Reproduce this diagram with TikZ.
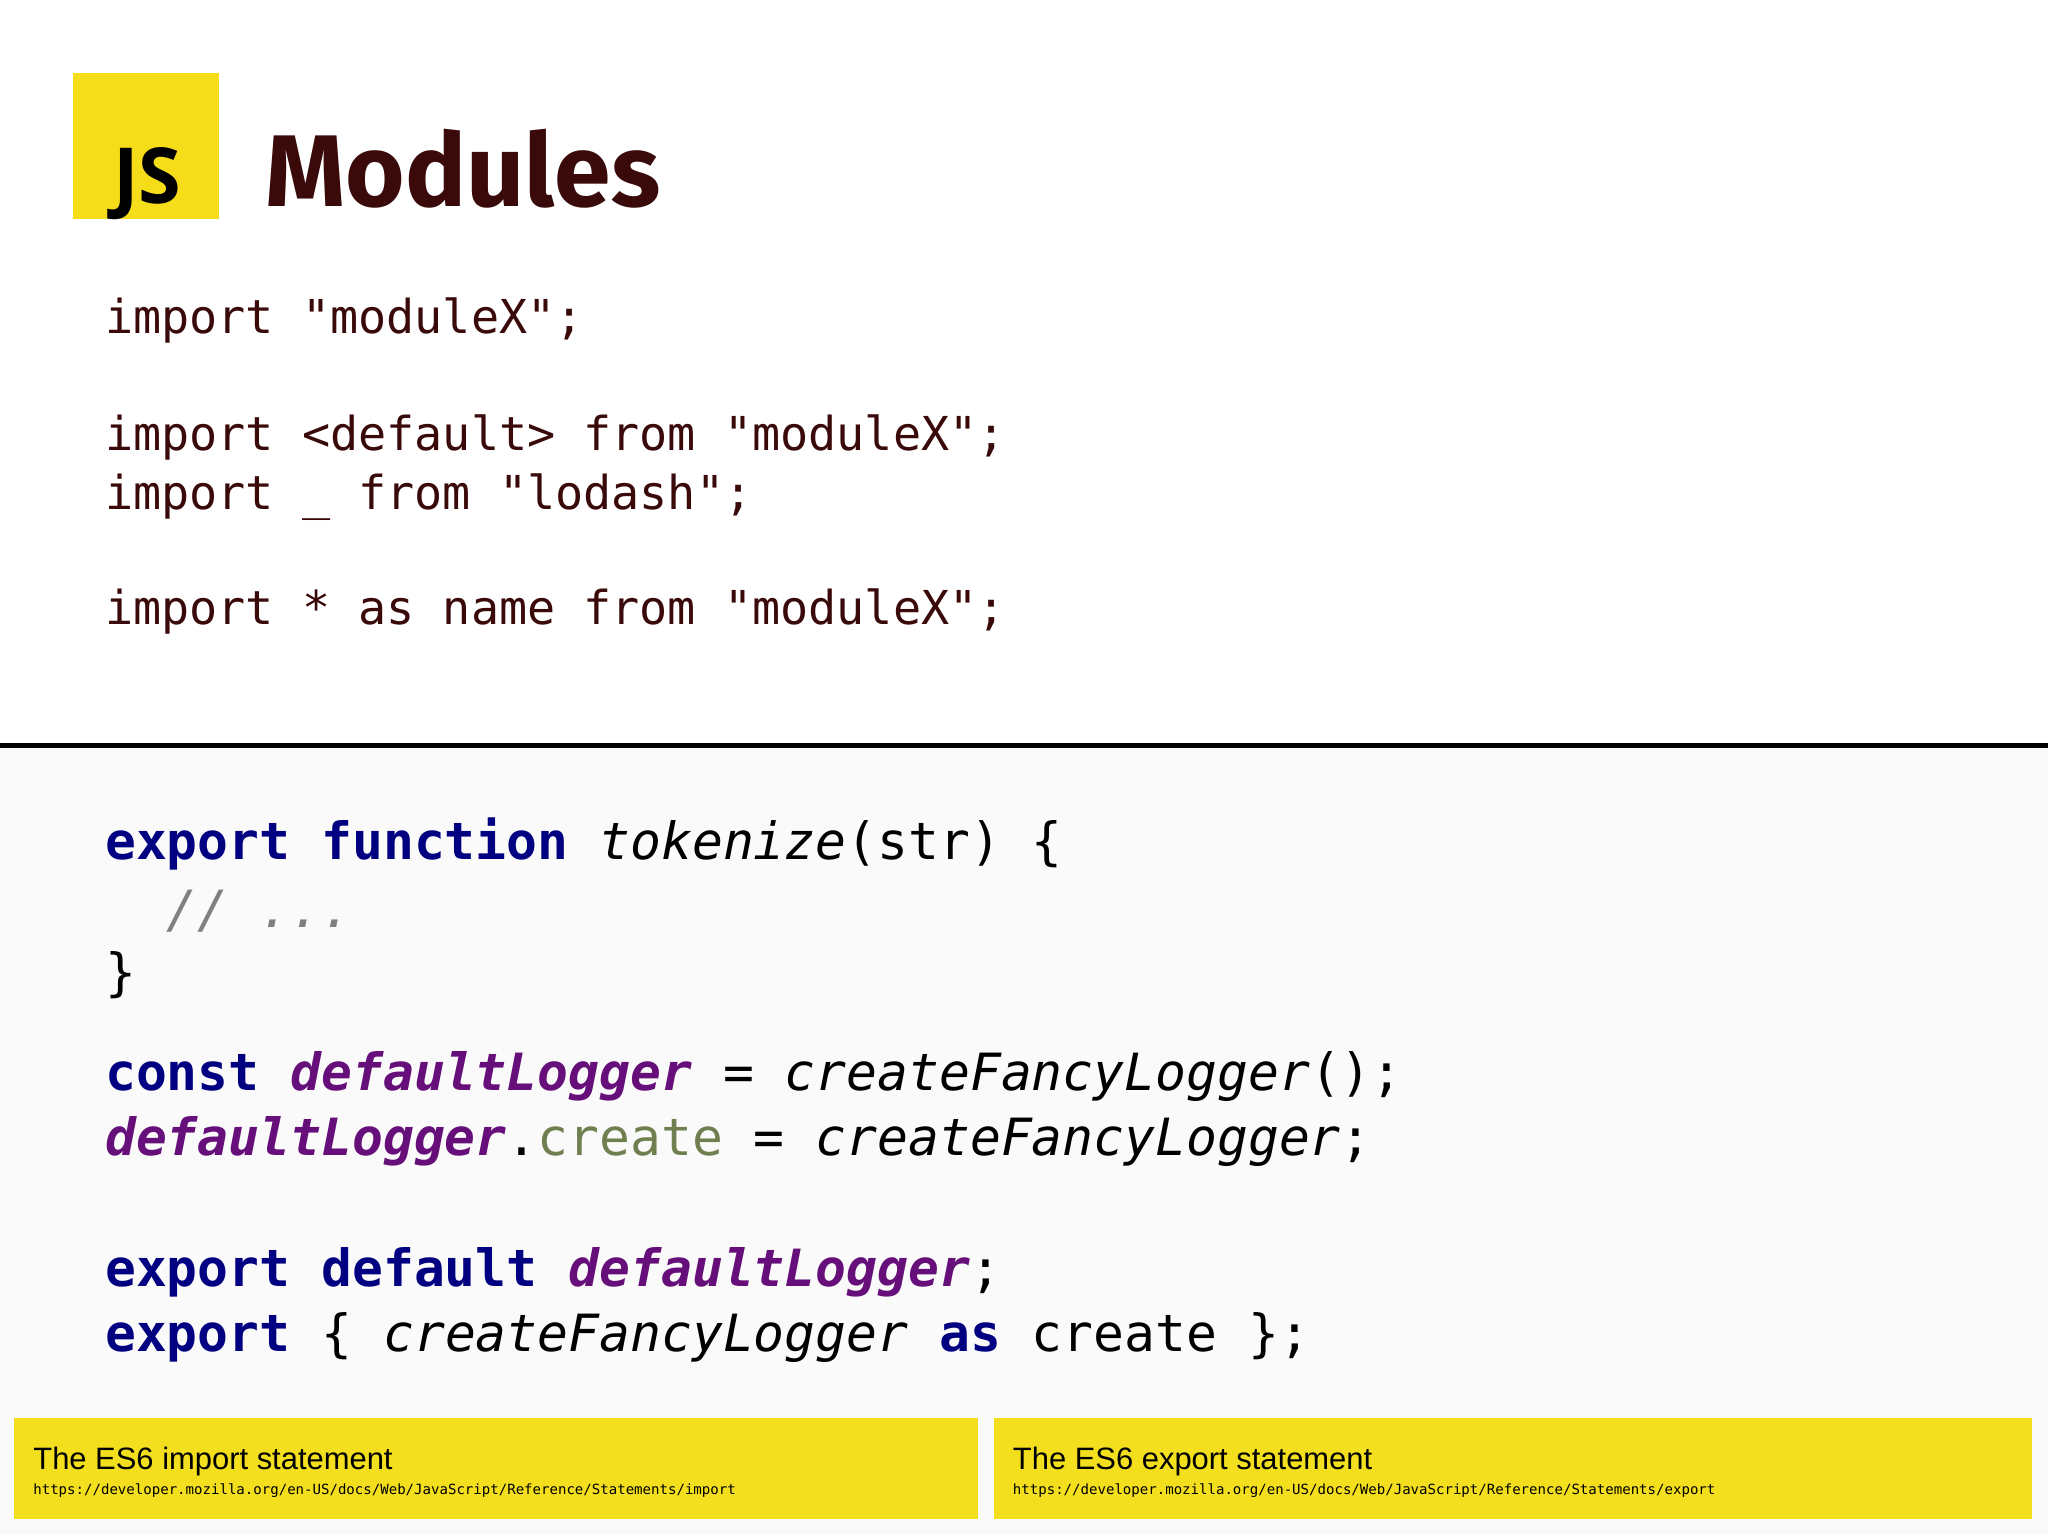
\documentclass[tikz,border=0pt]{standalone}
\usepackage{fontspec}
\setmainfont{Fira Sans}
\setmonofont{DejaVu Sans Mono}
\newfontfamily\titlefont{Fira Sans}
\newfontfamily\jsfont{Open Sans}
\newfontfamily\capfont{Liberation Sans}
\definecolor{darkred}{HTML}{3A0A0A}
\definecolor{kw}{HTML}{000080}
\definecolor{pur}{HTML}{660E7A}
\definecolor{olv}{HTML}{6F7F4F}
\definecolor{cmt}{HTML}{808080}
\definecolor{jsy}{HTML}{F5DE19}
\definecolor{boxy}{HTML}{F4DF1E}
\begin{document}
\begin{tikzpicture}[x=0.01306cm,y=-0.01306cm,
  t/.style={inner sep=0pt,anchor=base west},
  topcode/.style={t,font=\fontsize{13.3pt}{15pt}\ttfamily,text=darkred},
  botcode/.style={t,font=\fontsize{14.6pt}{16pt}\ttfamily,text=black},
  captxt/.style={t,font=\fontsize{8.8pt}{10pt}\capfont},
  urltxt/.style={t,font=\fontsize{4.0pt}{4.5pt}\ttfamily}]
\useasboundingbox (0,0) rectangle (1568,1175);
\fill[white] (0,0) rectangle (1568,571);
\fill[black!2] (0,571) rectangle (1568,1175);
\draw[line width=0.05cm] (0,571) -- (1568,571);
\fill[jsy] (56,56) rectangle (168,168);
\node[t,font=\fontsize{22pt}{24pt}\jsfont\bfseries,text=black] (js) at (86,156) {JS};
\node[t,font=\fontsize{29pt}{32pt}\titlefont\bfseries,text=darkred] (title) at (203,158) {Modules};
\node[topcode] (l1) at (80,255) {import "moduleX";};
\node[topcode] (l2) at (80,345) {import <default> from "moduleX";};
\node[topcode] (l3) at (80,390) {import \_ from "lodash";};
\node[topcode] (l4) at (80,478) {import * as name from "moduleX";};
\node[botcode] (b1) at (80,658) {\textcolor{kw}{\bfseries export function} \textit{tokenize}(str) \{};
\node[botcode] (b2) at (80,710) {\textcolor{cmt}{\itshape\ \ // ...}};
\node[botcode] (b3) at (80,758) {\}};
\node[botcode] (b4) at (80,835) {\textcolor{kw}{\bfseries const} \textcolor{pur}{\bfseries\itshape defaultLogger} = \textit{createFancyLogger}();};
\node[botcode] (b5) at (80,885) {\textcolor{pur}{\bfseries\itshape defaultLogger}.\textcolor{olv}{create} = \textit{createFancyLogger};};
\node[botcode] (b6) at (80,985) {\textcolor{kw}{\bfseries export default} \textcolor{pur}{\bfseries\itshape defaultLogger};};
\node[botcode] (b7) at (80,1035) {\textcolor{kw}{\bfseries export} \{ \textit{createFancyLogger} \textcolor{kw}{\bfseries as} create \};};
\fill[boxy] (11,1086) rectangle (749,1163);
\fill[boxy] (761,1086) rectangle (1556,1163);
\node[captxt] (c1) at (25,1125) {The ES6 import statement};
\node[urltxt] (u1) at (25,1144) {https://developer.mozilla.org/en-US/docs/Web/JavaScript/Reference/Statements/import};
\node[captxt] (c2) at (775,1125) {The ES6 export statement};
\node[urltxt] (u2) at (775,1144) {https://developer.mozilla.org/en-US/docs/Web/JavaScript/Reference/Statements/export};
\end{tikzpicture}
\end{document}
